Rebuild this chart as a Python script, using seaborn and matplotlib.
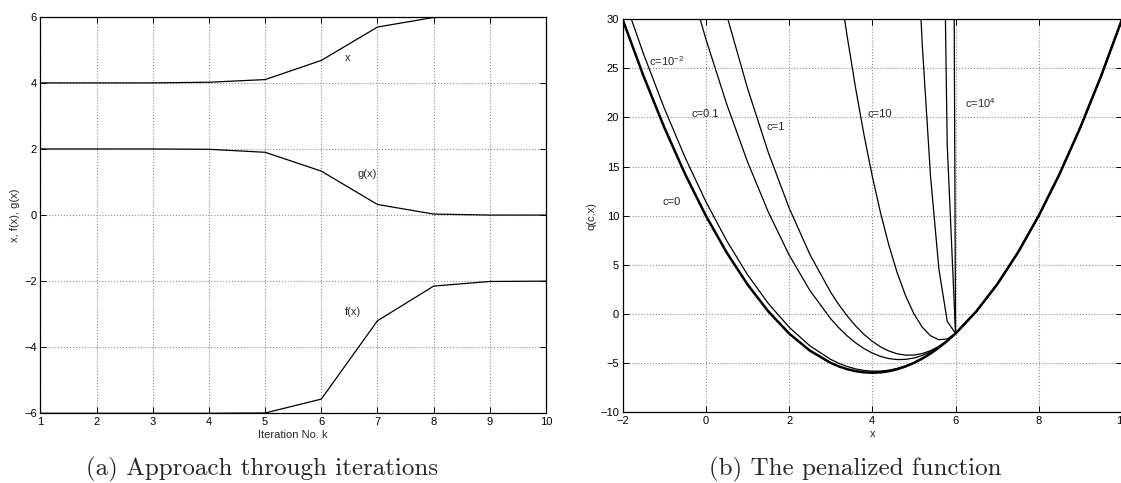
import numpy as np
import pandas as pd
import matplotlib
matplotlib.use("Agg")
import matplotlib.pyplot as plt
import seaborn as sns

# ---------------- data: panel (a) ----------------
iterations = [1, 2, 3, 4, 5, 6, 7, 8, 9, 10]
x_iter = [4.0, 4.0, 4.0, 4.02, 4.10, 4.68, 5.69, 5.98, 6.0, 6.0]
g_iter = [2.0, 2.0, 2.0, 1.99, 1.90, 1.33, 0.32, 0.03, 0.0, 0.0]
f_iter = [-6.0, -6.0, -6.0, -6.0, -5.99, -5.57, -3.20, -2.15, -2.01, -2.0]

# ---------------- data: panel (b) ----------------
x_grid = [-2, -1.5, -1, -0.5, 0, 0.5, 1, 1.5, 2, 2.5, 3, 3.2, 3.4, 3.6, 3.8,
          4, 4.2, 4.4, 4.6, 4.8, 5, 5.2, 5.4, 5.6, 5.8, 6]
x_right = [6.5, 7, 7.5, 8, 8.5, 9, 9.5, 10]
q_right = [0.25, 3, 6.25, 10, 14.25, 19, 24.25, 30]

q_c0 = [30, 24.25, 19, 14.25, 10, 6.25, 3, 0.25, -2, -3.75, -5, -5.36, -5.64, -5.84, -5.96,
        -6, -5.96, -5.84, -5.64, -5.36, -5, -4.56, -4.04, -3.44, -2.76, -2]
q_c1em2 = [32.56, 26.5, 20.96, 15.94, 11.44, 7.46, 4.0, 1.06, -1.36, -3.26, -4.64, -5.05, -5.37, -5.61, -5.77,
           -5.84, -5.83, -5.74, -5.56, -5.30, -4.96, -4.53, -4.03, -3.43, -2.76, -2]
q_c01 = [62, 52.38, 43.5, 35.38, 28, 21.38, 15.5, 10.38, 6, 2.38, -0.5, -1.44, -2.26, -2.96, -3.54,
         -4, -4.34, -4.56, -4.66, -4.64, -4.5, -4.24, -3.86, -3.36, -2.74, -2]
q_c1 = [81.2, 69.25, 58.2, 48.05, 38.8, 30.45, 23, 16.45, 10.8, 6.05, 2.2, 0.91, -0.23, -1.23, -2.09,
        -2.8, -3.37, -3.79, -4.07, -4.21, -4.2, -4.05, -3.75, -3.31, -2.73, -2]
q_c10 = [350, 305.5, 264, 225.5, 190, 157.5, 128, 101.5, 78, 57.5, 40, 33.84, 28.16, 22.96, 18.24,
         14, 10.24, 6.96, 4.16, 1.84, 0, -1.36, -2.24, -2.64, -2.56, -2]
q_c100 = [None] * 18 + [92.36, 66.64, 45, 27.44, 13.96, 4.56, -0.76, -2]
q_c1000 = [None] * 21 + [384.44, 175.96, 76.56, 17.24, -2]
q_c1e4 = [None] * 22 + [1795.96, 796.56, 197.24, -2]

curve_names = ["c=0", "c=1e-2", "c=0.1", "c=1", "c=10", "c=100", "c=1000", "c=1e4"]
curve_values = [q_c0, q_c1em2, q_c01, q_c1, q_c10, q_c100, q_c1000, q_c1e4]

# ---------------- style ----------------
sns.set_style("ticks")
plt.rcParams.update({
    "font.family": ["Liberation Sans", "DejaVu Sans"],
    "font.size": 8,
    "mathtext.default": "regular",
    "axes.linewidth": 0.9,
    "axes.edgecolor": "black",
    "xtick.direction": "in",
    "ytick.direction": "in",
    "xtick.top": True,
    "ytick.right": True,
    "xtick.major.size": 4,
    "ytick.major.size": 4,
    "xtick.major.width": 0.7,
    "ytick.major.width": 0.7,
    "xtick.color": "black",
    "ytick.color": "black",
    "xtick.labelsize": 8,
    "ytick.labelsize": 8,
    "axes.labelsize": 8,
})

fig = plt.figure(figsize=(11.21, 4.83), dpi=100)
ax1 = fig.add_axes([0.0360, 0.1443, 0.4511, 0.8209])
ax2 = fig.add_axes([0.5554, 0.1470, 0.4455, 0.8130])

# ---------------- panel (a) ----------------
df_a = pd.DataFrame({
    "k": iterations * 3,
    "value": x_iter + g_iter + f_iter,
    "series": ["x"] * len(iterations) + ["g(x)"] * len(iterations) + ["f(x)"] * len(iterations),
})
sns.lineplot(data=df_a, x="k", y="value", hue="series", palette=["black"] * 3,
             legend=False, ax=ax1, lw=0.9)
ax1.set_xlim(1, 10)
ax1.set_ylim(-6, 6)
ax1.set_xticks(range(1, 11))
ax1.set_yticks([-6, -4, -2, 0, 2, 4, 6])
ax1.grid(True, linestyle=":", color="0.55", lw=0.8)
ax1.set_axisbelow(True)
ax1.set_xlabel("Iteration No. k", labelpad=2)
ax1.set_ylabel("x, f(x), g(x)", labelpad=3)
ax1.tick_params(axis="x", pad=3)
ax1.tick_params(axis="y", pad=2.5)
ax1.text(6.42, 4.76, "x", ha="left", va="center")
ax1.text(6.64, 1.24, "g(x)", ha="left", va="center")
ax1.text(6.42, -2.92, "f(x)", ha="left", va="center")

# ---------------- panel (b) ----------------
rows = []
for name, vals in zip(curve_names, curve_values):
    for xv, qv in zip(x_grid + x_right, vals + q_right):
        rows.append((name, xv, qv))
df_b = pd.DataFrame(rows, columns=["c", "x", "q"]).dropna()

sns.lineplot(data=df_b[df_b["c"] != "c=0"], x="x", y="q", units="c", estimator=None,
             color="black", lw=0.9, ax=ax2, sort=True)
sns.lineplot(data=df_b[df_b["c"] == "c=0"], x="x", y="q", estimator=None,
             color="black", lw=1.8, ax=ax2)
ax2.set_xlim(-2, 10)
ax2.set_ylim(-10, 30)
ax2.set_xticks([-2, 0, 2, 4, 6, 8, 10])
ax2.set_yticks([-10, -5, 0, 5, 10, 15, 20, 25, 30])
ax2.grid(True, linestyle=":", color="0.55", lw=0.8)
ax2.set_axisbelow(True)
ax2.set_xlabel("x", labelpad=2)
ax2.set_ylabel("q(c,x)", labelpad=3)
ax2.tick_params(axis="x", pad=3)
ax2.tick_params(axis="y", pad=2.5)
ax2.text(-1.36, 25.7, "c=10$^{-2}$", ha="left", va="center")
ax2.text(-0.34, 20.4, "c=0.1", ha="left", va="center")
ax2.text(1.45, 19.0, "c=1", ha="left", va="center")
ax2.text(3.88, 20.4, "c=10", ha="left", va="center")
ax2.text(6.22, 21.5, "c=10$^{4}$", ha="left", va="center")
ax2.text(-1.04, 11.4, "c=0", ha="left", va="center")

# ---------------- captions ----------------
fig.text(262 / 1121, 1 - 469 / 483, "(a) Approach through iterations",
         ha="center", va="center", fontfamily="cmr10", fontsize=18)
fig.text(855 / 1121, 1 - 469 / 483, "(b) The penalized function",
         ha="center", va="center", fontfamily="cmr10", fontsize=18)

fig.savefig("out.png", dpi=100)
